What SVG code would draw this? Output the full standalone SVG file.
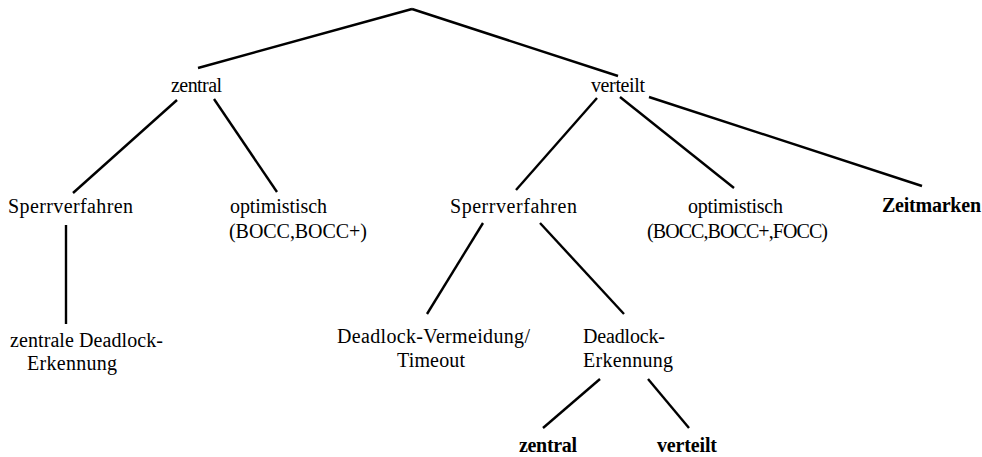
<svg xmlns="http://www.w3.org/2000/svg" width="982" height="457" viewBox="0 0 982 457">
<style>
text{font-family:"Liberation Serif","Times New Roman",serif;font-size:20px;fill:#000}
.b{font-weight:bold}
.c line{stroke:#000;stroke-width:2.4;stroke-linecap:butt}
</style>
<rect width="982" height="457" fill="#fff"/>
<g id="connectors" class="c">
<line x1="412" y1="9" x2="198" y2="68"/>
<line x1="412" y1="9" x2="618" y2="76"/>
<line x1="177" y1="100" x2="73" y2="193"/>
<line x1="214" y1="99" x2="277" y2="192"/>
<line x1="66" y1="225" x2="66" y2="324"/>
<line x1="597" y1="98" x2="516" y2="190"/>
<line x1="620" y1="97" x2="734" y2="188"/>
<line x1="649" y1="97" x2="922" y2="186"/>
<line x1="483" y1="223" x2="427" y2="314"/>
<line x1="540" y1="223" x2="624" y2="314"/>
<line x1="600" y1="379" x2="543" y2="428"/>
<line x1="648" y1="379" x2="689" y2="428"/>
</g>
<g id="n-zentral"><text x="171" y="92" textLength="51">zentral</text></g>
<g id="n-verteilt"><text x="591" y="92" textLength="54">verteilt</text></g>
<g id="n-sperr-z"><text x="8" y="213" textLength="125">Sperrverfahren</text></g>
<g id="n-opt-z"><text x="230" y="213" textLength="97">optimistisch</text><text x="229" y="238" textLength="138">(BOCC,BOCC+)</text></g>
<g id="n-zdl"><text x="10" y="347" textLength="153">zentrale Deadlock-</text><text x="27" y="370" textLength="90">Erkennung</text></g>
<g id="n-sperr-v"><text x="450" y="213" textLength="127">Sperrverfahren</text></g>
<g id="n-opt-v"><text x="688" y="213" textLength="95">optimistisch</text><text x="647" y="238" textLength="181">(BOCC,BOCC+,FOCC)</text></g>
<g id="n-zeit"><text class="b" x="882" y="212" textLength="99">Zeitmarken</text></g>
<g id="n-dlv"><text x="337" y="343" textLength="193">Deadlock-Vermeidung/</text><text x="397" y="367" textLength="68">Timeout</text></g>
<g id="n-dle"><text x="583" y="343" textLength="82">Deadlock-</text><text x="583" y="367" textLength="90">Erkennung</text></g>
<g id="n-zentral2"><text class="b" x="519" y="452" textLength="58">zentral</text></g>
<g id="n-verteilt2"><text class="b" x="657" y="452" textLength="60">verteilt</text></g>
</svg>
